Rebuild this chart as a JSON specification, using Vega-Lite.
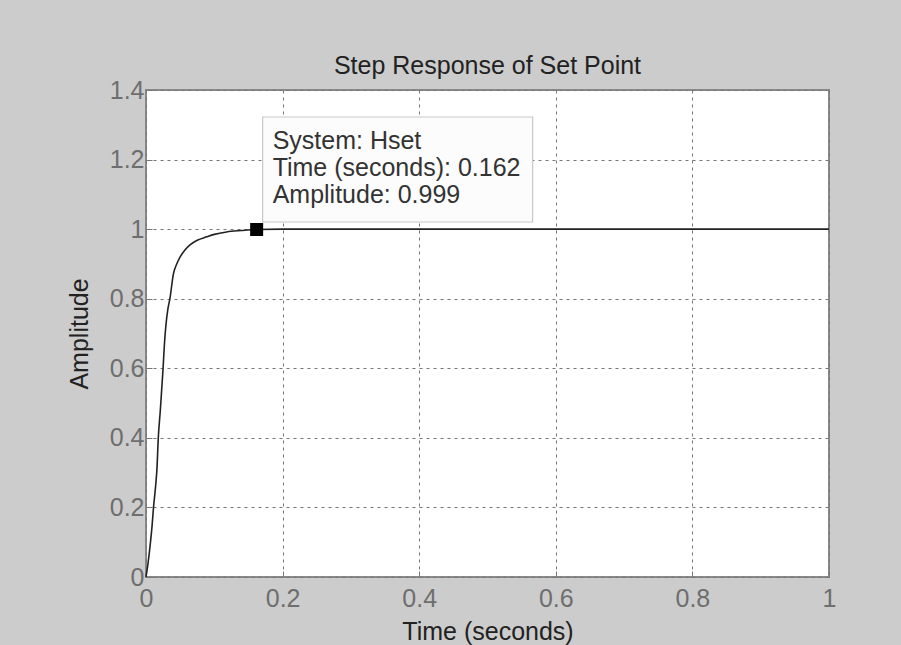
{
  "$schema": "https://vega.github.io/schema/vega-lite/v6.json",
  "autosize": {"type": "none"},
  "padding": {"left": 146, "top": 90, "right": 72, "bottom": 68},
  "width": 683,
  "height": 487,
  "background": "#cccccc",
  "config": {
    "font": "Liberation Sans",
    "view": {"fill": "white", "stroke": "#888888", "strokeWidth": 2},
    "axis": {
      "grid": true,
      "gridColor": "#777777",
      "gridDash": [3, 4],
      "gridWidth": 1,
      "domain": false,
      "tickSize": -6,
      "tickColor": "#777777",
      "labelFont": "Liberation Sans",
      "labelFontSize": 25,
      "labelColor": "#6e6e6e",
      "titleFont": "Liberation Sans",
      "titleFontSize": 25,
      "titleFontWeight": "normal",
      "titleColor": "#222222"
    }
  },
  "title": {
    "text": "Step Response of Set Point",
    "font": "Liberation Sans",
    "fontSize": 25,
    "fontWeight": "normal",
    "color": "#222222",
    "frame": "group",
    "anchor": "middle",
    "baseline": "alphabetic",
    "offset": 16,
    "dy": 37
  },
  "datasets": {
    "resp": [
      {"t": 0, "amp": 0},
      {"t": 0.003, "amp": 0.04},
      {"t": 0.006, "amp": 0.09},
      {"t": 0.009, "amp": 0.15},
      {"t": 0.011, "amp": 0.2},
      {"t": 0.014, "amp": 0.26},
      {"t": 0.016, "amp": 0.31},
      {"t": 0.018, "amp": 0.4},
      {"t": 0.021, "amp": 0.48},
      {"t": 0.023, "amp": 0.54},
      {"t": 0.025, "amp": 0.6},
      {"t": 0.027, "amp": 0.67},
      {"t": 0.029, "amp": 0.72},
      {"t": 0.032, "amp": 0.77},
      {"t": 0.035, "amp": 0.8},
      {"t": 0.04, "amp": 0.87},
      {"t": 0.045, "amp": 0.9},
      {"t": 0.05, "amp": 0.92},
      {"t": 0.057, "amp": 0.94},
      {"t": 0.064, "amp": 0.954},
      {"t": 0.075, "amp": 0.968},
      {"t": 0.089, "amp": 0.978},
      {"t": 0.1, "amp": 0.985},
      {"t": 0.118, "amp": 0.992},
      {"t": 0.14, "amp": 0.996},
      {"t": 0.162, "amp": 0.999},
      {"t": 0.2, "amp": 1.0},
      {"t": 0.4, "amp": 1.0},
      {"t": 0.6, "amp": 1.0},
      {"t": 0.8, "amp": 1.0},
      {"t": 1.0, "amp": 1.0}
    ],
    "tip": [
      {"t": 0.162, "amp": 0.999, "label": "System: Hset\nTime (seconds): 0.162\nAmplitude: 0.999"}
    ]
  },
  "encoding": {
    "x": {
      "field": "t",
      "type": "quantitative",
      "title": "Time (seconds)",
      "scale": {"domain": [0, 1], "nice": false, "zero": true},
      "axis": {"values": [0, 0.2, 0.4, 0.6, 0.8, 1], "labelPadding": 15, "titlePadding": 8, "labelFlush": false,
        "labelExpr": "datum.value == 0 ? '0' : datum.value == 1 ? '1' : format(datum.value, '.1f')"}
    },
    "y": {
      "field": "amp",
      "type": "quantitative",
      "title": "Amplitude",
      "scale": {"domain": [0, 1.4], "nice": false},
      "axis": {"values": [0, 0.2, 0.4, 0.6, 0.8, 1, 1.2, 1.4], "labelPadding": 8, "titlePadding": 17, "labelFlush": false,
        "labelExpr": "datum.value == 0 ? '0' : datum.value == 1 ? '1' : format(datum.value, '.1f')"}
    }
  },
  "layer": [
    {
      "data": {"name": "resp"},
      "mark": {"type": "line", "color": "#222222", "strokeWidth": 1.6, "interpolate": "monotone"}
    },
    {
      "data": {"name": "tip"},
      "mark": {"type": "rect", "width": 270, "height": 105, "xOffset": 141, "yOffset": -60, "fill": "#fcfcfc", "stroke": "#c8c8c8", "strokeWidth": 1.2}
    },
    {
      "data": {"name": "tip"},
      "mark": {"type": "text", "align": "left", "baseline": "alphabetic", "dx": 16, "dy": -80, "lineBreak": "\n", "lineHeight": 27, "fontSize": 25, "font": "Liberation Sans", "color": "#333333"},
      "encoding": {"text": {"field": "label"}}
    },
    {
      "data": {"name": "tip"},
      "mark": {"type": "square", "size": 169, "filled": true, "color": "black", "opacity": 1}
    }
  ]
}
